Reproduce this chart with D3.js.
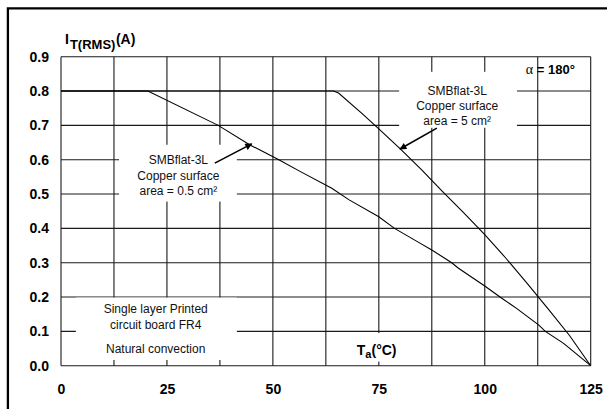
<!DOCTYPE html>
<html>
<head>
<meta charset="utf-8">
<script src="https://cdn.jsdelivr.net/npm/d3@7"></script>
<style>
  html, body { margin: 0; background: #fff; overflow: hidden; }
  svg { display: block; overflow: hidden; font-family: "Liberation Sans", Arial, sans-serif; }
</style>
</head>
<body>
<svg id="drawing_region"></svg>
<script>
// values
const temps1 = [0, 20.5, 37.1, 44.6, 51.4, 56.4, 63.9, 68.0, 75.0, 78.7, 84.7, 87.5, 92.2, 93.8, 100, 103.6, 107.5, 112.7, 114.3, 118.6, 125];
const amps1  = [0.8, 0.8, 0.7, 0.643, 0.6, 0.566, 0.517, 0.483, 0.434, 0.4, 0.357, 0.337, 0.3, 0.284, 0.232, 0.2, 0.167, 0.119, 0.1, 0.065, 0];
const temps2 = [0, 64.3, 65.5, 71, 75, 80, 85, 90, 95, 100, 105, 110, 115, 120, 125];
const amps2  = [0.8, 0.8, 0.794, 0.735, 0.69, 0.632, 0.572, 0.508, 0.446, 0.382, 0.313, 0.24, 0.165, 0.088, 0];

const xTicks = [0, 25, 50, 75, 100, 125];
const xGrid = [0, 12.5, 25, 37.5, 50, 62.5, 75, 87.5, 100, 112.5, 125];
const yTicks = [0, 0.1, 0.2, 0.3, 0.4, 0.5, 0.6, 0.7, 0.8, 0.9];

const labelLow = ["SMBflat-3L", "Copper surface", "area = 0.5 cm²"];
const labelHigh = ["SMBflat-3L", "Copper surface", "area = 5 cm²"];
const boardNote = ["Single layer Printed", "circuit board FR4", "Natural convection"];

const W = 607, H = 409;
const margin = {top: 56.7, left: 61, right: 16.3, bottom: 43.3};

const svg = d3.select('#drawing_region').attr('width', W).attr('height', H);

// outer frame (only top and left show in the crop)
svg.append('path')
  .attr('d', `M7.9,${H}V8.3H${W}`)
  .attr('fill', 'none').attr('stroke', '#000').attr('stroke-width', 2.3);

const x = d3.scaleLinear().domain([0, 125]).range([margin.left, W - margin.right]);
const y = d3.scaleLinear().domain([0, 0.9]).range([H - margin.bottom, margin.top]);

const grid = svg.append('g').attr('stroke', '#1a1a1a').attr('stroke-width', 1.1);
grid.selectAll('line.v').data(xGrid).join('line')
  .attr('x1', d => x(d)).attr('x2', d => x(d))
  .attr('y1', y(0)).attr('y2', y(0.9));
grid.selectAll('line.h').data(yTicks).join('line')
  .attr('x1', x(0)).attr('x2', x(125))
  .attr('y1', d => y(d)).attr('y2', d => y(d));

// white boxes behind the notes (break the grid)
const boxes = [
  {x0: 13.7, x1: 41.5, y0: 0.478, y1: 0.6435},
  {x0: 79.8, x1: 107.6, y0: 0.693, y1: 0.856},
  {x0: 3.5, x1: 41.5, y0: 0.0166, y1: 0.1985},
  {x0: 68.7, x1: 80.5, y0: 0.012, y1: 0.095}
];
svg.append('g').selectAll('rect').data(boxes).join('rect')
  .attr('x', d => x(d.x0)).attr('y', d => y(d.y1))
  .attr('width', d => x(d.x1) - x(d.x0)).attr('height', d => y(d.y0) - y(d.y1))
  .attr('fill', '#fff');

// axes (labels only)
const xAxis = d3.axisBottom(x).tickValues(xTicks).tickSize(0).tickPadding(18).tickFormat(d3.format('d'));
const yAxis = d3.axisLeft(y).tickValues(yTicks).tickSize(0).tickPadding(12).tickFormat(d3.format('.1f'));

const gx = svg.append('g').attr('transform', `translate(0,${y(0)})`).call(xAxis);
const gy = svg.append('g').attr('transform', `translate(${x(0)},0)`).call(yAxis);
[gx, gy].forEach(g => {
  g.select('.domain').remove();
  g.selectAll('text').attr('font-family', '"Liberation Sans", Arial, sans-serif')
    .attr('font-size', 14).attr('font-weight', 'bold').attr('fill', '#000');
});

// curves
const line = d3.line().x(d => x(d[0])).y(d => y(d[1]));
const curve1 = temps1.map((t, i) => [t, amps1[i]]);
const curve2 = temps2.map((t, i) => [t, amps2[i]]);
svg.append('g').selectAll('path').data([curve1, curve2]).join('path')
  .attr('d', line).attr('fill', 'none').attr('stroke', '#000').attr('stroke-width', 1.1);

// arrows
svg.append('defs').append('marker')
  .attr('id', 'head').attr('viewBox', '0 0 10 10').attr('refX', 9).attr('refY', 5)
  .attr('markerWidth', 9).attr('markerHeight', 7).attr('markerUnits', 'userSpaceOnUse')
  .attr('orient', 'auto')
  .append('path').attr('d', 'M0,0L10,5L0,10Z').attr('fill', '#000');

const arrows = [
  {from: [36.3, 0.59], to: [45.0, 0.646]},
  {from: [88.7, 0.692], to: [80.0, 0.631]}
];
svg.append('g').selectAll('line').data(arrows).join('line')
  .attr('x1', d => x(d.from[0])).attr('y1', d => y(d.from[1]))
  .attr('x2', d => x(d.to[0])).attr('y2', d => y(d.to[1]))
  .attr('stroke', '#000').attr('stroke-width', 1.6).attr('marker-end', 'url(#head)');

// note texts
function note(lines, cx, cy, gaps) {
  const t = svg.append('text')
    .attr('x', x(cx)).attr('y', y(cy))
    .attr('text-anchor', 'middle').attr('font-size', 12).attr('fill', '#111');
  t.selectAll('tspan').data(lines).join('tspan')
    .attr('x', x(cx)).attr('dy', (d, i) => i === 0 ? 0 : gaps[i - 1])
    .text(d => d);
}
note(labelLow, 27.7, 0.587, [15.5, 15.5]);
note(labelHigh, 93.5, 0.788, [15, 15]);
note(boardNote, 22.35, 0.154, [16, 24]);

// y title
const yt = svg.append('text').attr('x', 65).attr('y', 44)
  .attr('font-size', 14).attr('font-weight', 'bold').attr('fill', '#000');
yt.append('tspan').text('I');
yt.append('tspan').attr('font-size', 13).attr('dy', 5).attr('dx', 1).text('T(RMS)');
yt.append('tspan').attr('dy', -5).attr('dx', 0.5).text('(A)');

// x title
const xt = svg.append('text').attr('x', x(69.8)).attr('y', y(0.031))
  .attr('font-size', 14).attr('font-weight', 'bold').attr('fill', '#000');
xt.append('tspan').text('T');
xt.append('tspan').attr('font-size', 11).attr('dy', 3).text('a');
xt.append('tspan').attr('dy', -3).text('(°C)');

// conduction angle
const at = svg.append('text').attr('x', x(109.7)).attr('y', y(0.85))
  .attr('font-size', 13).attr('fill', '#000');
at.append('tspan').attr('font-family', '"Liberation Serif", serif').attr('font-size', 14).text('α');
at.append('tspan').attr('font-weight', 'bold').text(' = 180°');
</script>
</body>
</html>
